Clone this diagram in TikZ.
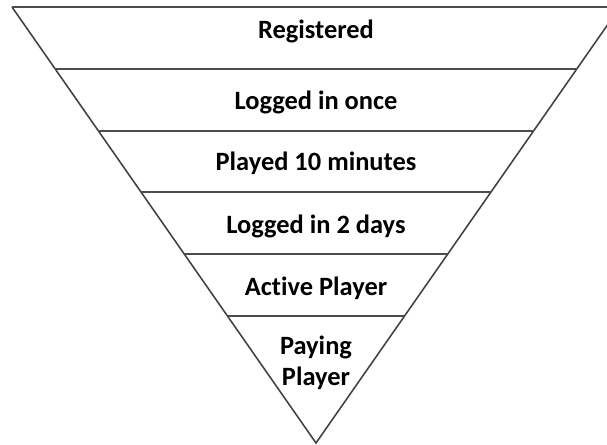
\documentclass[tikz,border=0pt]{standalone}
\usepackage{fontspec}
\setmainfont{Carlito}[Ligatures=CommonOff]
\usetikzlibrary{calc}

\begin{document}
\begin{tikzpicture}[
  x=0.025cm, y=-0.025cm,
  funnel/.style={draw=black!75, line width=1.1pt, line join=miter},
  divider/.style={draw=black!70, line width=1.4pt},
  stage/.style={font=\bfseries\fontsize{18.8}{21.8}\selectfont, align=center, text=black, inner sep=0pt}
]
\useasboundingbox (0,0) rectangle (607,445);
\clip (0,0) rectangle (607,445);
\coordinate (tl) at (12,7);
\coordinate (tr) at (620,7);
\coordinate (apex) at (316,443);
% outline of the funnel
\draw[funnel] (tl) -- (apex) -- (tr);
\draw[divider] (tl) -- (tr);
% dividers between the stages
\foreach \k in {1,...,5}
  \draw[divider] ($(tl)!\k*0.1418!(apex)$) -- ($(tr)!\k*0.1418!(apex)$);
\node[stage] (registered) at (316,31) {Registered};
\node[stage] (once) at (316,102) {Logged in once};
\node[stage] (played) at (316,163) {Played 10 minutes};
\node[stage] (twodays) at (316,226) {Logged in 2 days};
\node[stage] (active) at (316,288) {Active Player};
\node[stage] (paying) at (316,363) {Paying\\Player};
\end{tikzpicture}
\end{document}
